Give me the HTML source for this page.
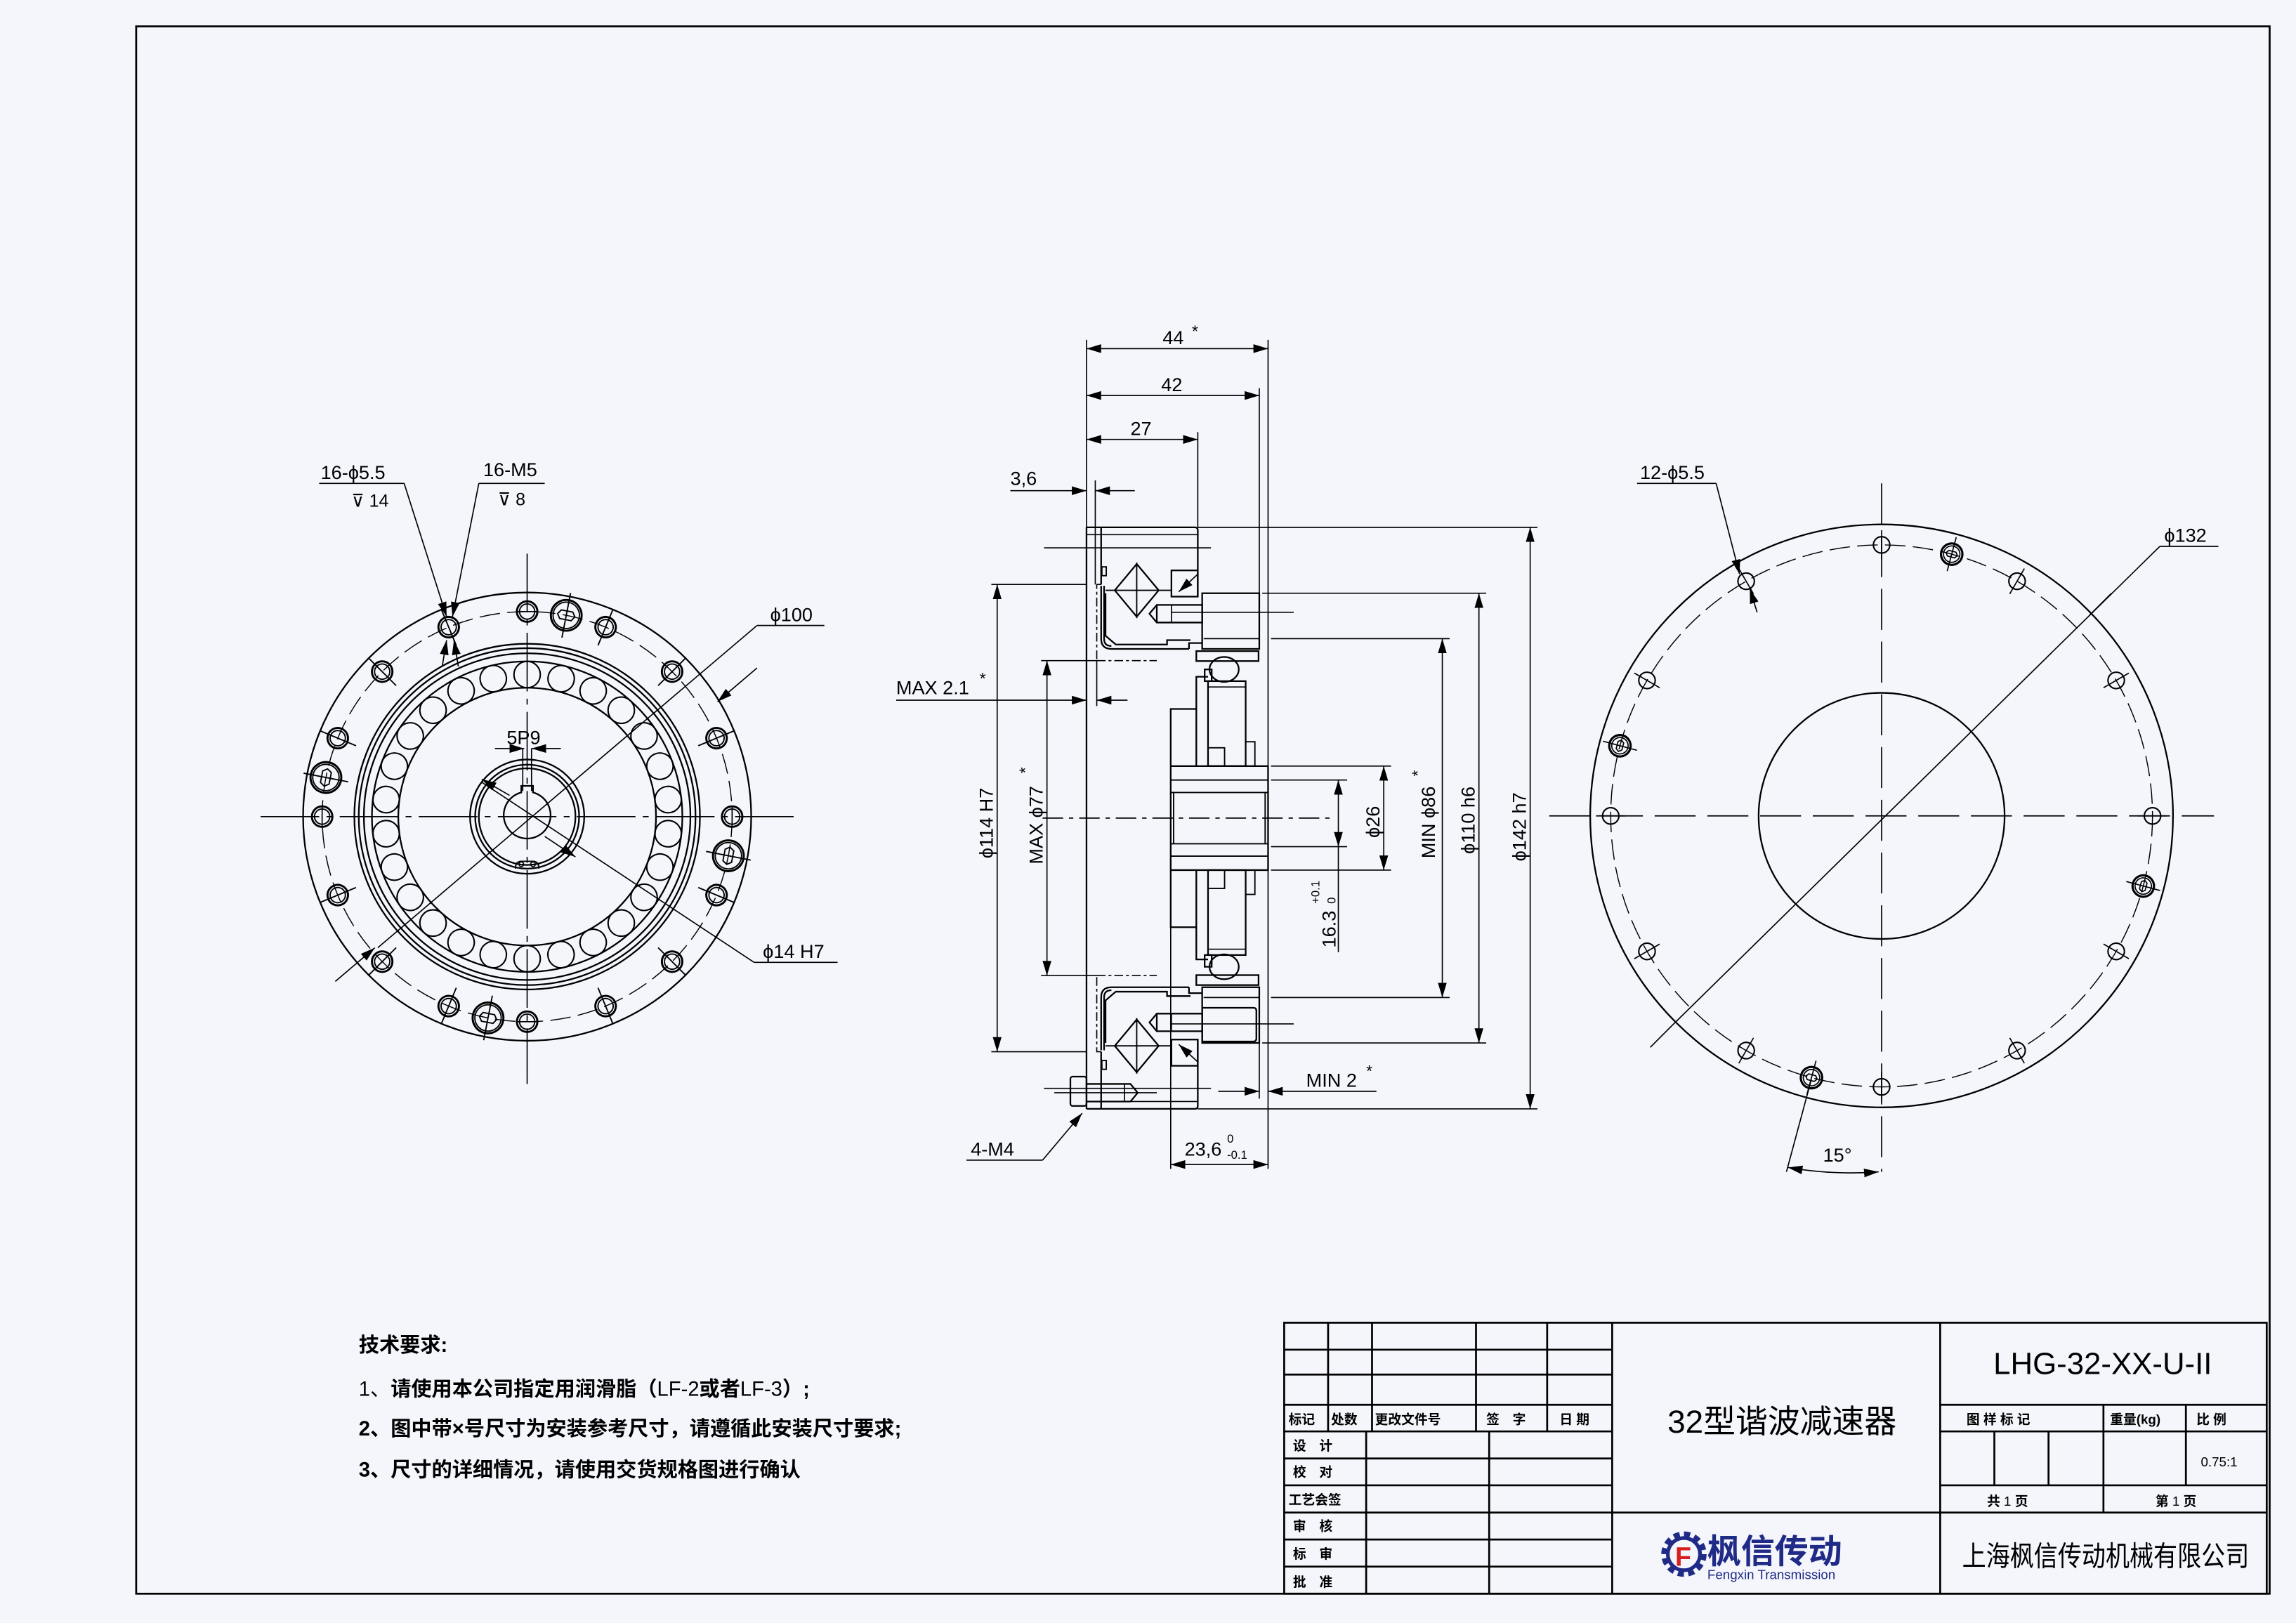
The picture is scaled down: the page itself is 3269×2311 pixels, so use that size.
<!DOCTYPE html>
<html><head><meta charset="utf-8"><style>
html,body{margin:0;padding:0;background:#f4f6fc}
svg{display:block}
text{font-family:"Liberation Sans","Noto Sans CJK SC",sans-serif;fill:#000}
</style></head><body>
<svg width="3269" height="2311" viewBox="0 0 1568 1108" preserveAspectRatio="none" xmlns="http://www.w3.org/2000/svg">
<defs>
<marker id="a" viewBox="0 0 10 6" refX="10" refY="3" markerWidth="10" markerHeight="6" markerUnits="userSpaceOnUse" orient="auto-start-reverse"><path d="M0,0L10,3L0,6z" fill="#000"/></marker>
<g id="hL">
<circle cx="360" cy="417.5" r="7" fill="none" stroke="#000" stroke-width="1.4"/>
<circle cx="360" cy="417.5" r="5.2" fill="none" stroke="#000" stroke-width="0.9"/>
<line x1="360" y1="404" x2="360" y2="431" stroke="#000" stroke-width="0.9"/>
</g>
<g id="hL0">
<circle cx="360" cy="417.5" r="7" fill="none" stroke="#000" stroke-width="1.4"/>
<circle cx="360" cy="417.5" r="5.2" fill="none" stroke="#000" stroke-width="0.9"/>
<line x1="353" y1="417.5" x2="367" y2="417.5" stroke="#000" stroke-width="0.8"/>
</g>
<g id="xL">
<circle cx="360" cy="417.5" r="10.5" fill="none" stroke="#000" stroke-width="1.4"/>
<circle cx="360" cy="417.5" r="9" fill="none" stroke="#000" stroke-width="0.9"/>
<path d="M356,414.5h8l2,3l-2,3h-8l-2,-3z" fill="none" stroke="#000" stroke-width="0.9"/>
<line x1="360" y1="402" x2="360" y2="433" stroke="#000" stroke-width="0.9"/>
</g>
<g id="roll">
<circle cx="360" cy="460.5" r="9" fill="none" stroke="#000" stroke-width="1"/>
</g>
<g id="hR">
<circle cx="1285" cy="372" r="5.6" fill="none" stroke="#000" stroke-width="1"/>
<line x1="1285" y1="362" x2="1285" y2="382" stroke="#000" stroke-width="0.8"/>
</g>
<g id="xR">
<circle cx="1285" cy="372" r="7.3" fill="none" stroke="#000" stroke-width="1.5"/>
<circle cx="1285" cy="372" r="5.6" fill="none" stroke="#000" stroke-width="0.8"/>
<path d="M1282.5,370h5l1.5,2l-1.5,2h-5l-1.5,-2z" fill="none" stroke="#000" stroke-width="0.8"/>
<line x1="1285" y1="360" x2="1285" y2="384" stroke="#000" stroke-width="0.8"/>
</g>
</defs>

<rect x="93" y="18" width="1457" height="1070" fill="none" stroke="#000" stroke-width="1.3"/>

<!-- ============ LEFT VIEW ============ -->
<g fill="none" stroke="#000" stroke-width="1.1">
<circle cx="360" cy="557.5" r="153"/>
<circle cx="360" cy="557.5" r="140" stroke-width="0.7" stroke-dasharray="14 5"/>
<circle cx="360" cy="557.5" r="118"/>
<circle cx="360" cy="557.5" r="115"/>
<circle cx="360" cy="557.5" r="111.5"/>
<circle cx="360" cy="557.5" r="106"/>
<circle cx="360" cy="557.5" r="88"/>
<circle cx="360" cy="557.5" r="39"/>
<circle cx="360" cy="557.5" r="35.5"/>
<circle cx="360" cy="557.5" r="33"/>
<path d="M356,541 V536.5 H364 V541 A16,16 0 1 1 356,541z"/>
<path d="M352,593 q0,-5 4,-5 h8 q4,0 4,5" stroke-width="0.9"/>
<circle cx="356" cy="590" r="1.6" stroke-width="0.8"/><circle cx="364" cy="590" r="1.6" stroke-width="0.8"/>
</g>
<g>
<use href="#roll"/><use href="#roll" transform="rotate(13.85 360 557.5)"/><use href="#roll" transform="rotate(27.7 360 557.5)"/><use href="#roll" transform="rotate(41.5 360 557.5)"/><use href="#roll" transform="rotate(55.4 360 557.5)"/><use href="#roll" transform="rotate(69.2 360 557.5)"/><use href="#roll" transform="rotate(83.1 360 557.5)"/><use href="#roll" transform="rotate(96.9 360 557.5)"/><use href="#roll" transform="rotate(110.8 360 557.5)"/><use href="#roll" transform="rotate(124.6 360 557.5)"/><use href="#roll" transform="rotate(138.5 360 557.5)"/><use href="#roll" transform="rotate(152.3 360 557.5)"/><use href="#roll" transform="rotate(166.2 360 557.5)"/><use href="#roll" transform="rotate(180 360 557.5)"/><use href="#roll" transform="rotate(193.8 360 557.5)"/><use href="#roll" transform="rotate(207.7 360 557.5)"/><use href="#roll" transform="rotate(221.5 360 557.5)"/><use href="#roll" transform="rotate(235.4 360 557.5)"/><use href="#roll" transform="rotate(249.2 360 557.5)"/><use href="#roll" transform="rotate(263.1 360 557.5)"/><use href="#roll" transform="rotate(276.9 360 557.5)"/><use href="#roll" transform="rotate(290.8 360 557.5)"/><use href="#roll" transform="rotate(304.6 360 557.5)"/><use href="#roll" transform="rotate(318.5 360 557.5)"/><use href="#roll" transform="rotate(332.3 360 557.5)"/><use href="#roll" transform="rotate(346.2 360 557.5)"/>
</g>
<g>
<use href="#hL0"/><use href="#hL" transform="rotate(22.5 360 557.5)"/><use href="#hL" transform="rotate(45 360 557.5)"/><use href="#hL" transform="rotate(67.5 360 557.5)"/>
<use href="#hL0" transform="rotate(90 360 557.5)"/><use href="#hL" transform="rotate(112.5 360 557.5)"/><use href="#hL" transform="rotate(135 360 557.5)"/><use href="#hL" transform="rotate(157.5 360 557.5)"/>
<use href="#hL0" transform="rotate(180 360 557.5)"/><use href="#hL" transform="rotate(202.5 360 557.5)"/><use href="#hL" transform="rotate(225 360 557.5)"/><use href="#hL" transform="rotate(247.5 360 557.5)"/>
<use href="#hL0" transform="rotate(270 360 557.5)"/><use href="#hL" transform="rotate(292.5 360 557.5)"/><use href="#hL" transform="rotate(315 360 557.5)"/><use href="#hL" transform="rotate(337.5 360 557.5)"/>
<use href="#xL" transform="rotate(11 360 557.5)"/><use href="#xL" transform="rotate(101 360 557.5)"/><use href="#xL" transform="rotate(191 360 557.5)"/><use href="#xL" transform="rotate(281 360 557.5)"/>
</g>
<g stroke="#000" stroke-width="0.8" fill="none">
<line x1="178" y1="557.5" x2="542" y2="557.5" stroke-dasharray="40 5 4 5"/>
<line x1="360" y1="378" x2="360" y2="740" stroke-dasharray="40 5 4 5"/>
<line x1="218" y1="330" x2="276" y2="330"/>
<line x1="276" y1="330" x2="305" y2="421" marker-end="url(#a)"/>
<line x1="327" y1="330" x2="372" y2="330"/>
<line x1="327" y1="330" x2="309" y2="421" marker-end="url(#a)"/>
<line x1="302" y1="455" x2="305" y2="437" marker-end="url(#a)"/>
<line x1="313" y1="455" x2="310" y2="437" marker-end="url(#a)"/>
<line x1="517" y1="427" x2="563" y2="427"/>
<line x1="517" y1="427" x2="258" y2="647"/>
<line x1="490" y1="479" x2="517" y2="456" marker-start="url(#a)"/>
<line x1="229" y1="670" x2="256" y2="647" marker-end="url(#a)"/>
<line x1="515" y1="657" x2="572" y2="657"/>
<line x1="515" y1="657" x2="329" y2="534"/>
<line x1="348" y1="543" x2="329" y2="532" marker-end="url(#a)"/>
<line x1="372" y1="571" x2="393" y2="585" marker-end="url(#a)"/>
<line x1="338" y1="511" x2="358" y2="511" marker-end="url(#a)"/>
<line x1="383" y1="511" x2="363" y2="511" marker-end="url(#a)"/>
<line x1="357" y1="511" x2="357" y2="540"/><line x1="363" y1="511" x2="363" y2="540"/>
</g>
<g font-size="13">
<text x="219" y="327">16-ϕ5.5</text>
<text x="240" y="346" font-size="12">⊽ 14</text>
<text x="330" y="325">16-M5</text>
<text x="340" y="345" font-size="12">⊽ 8</text>
<text x="526" y="424">ϕ100</text>
<text x="521" y="654">ϕ14 H7</text>
<text x="346" y="508">5P9</text>
</g>

<!-- ============ MIDDLE VIEW ============ -->
<g id="half" fill="none" stroke="#000" stroke-width="1.1">
<path d="M742,360 H816 q2,0 2,2 V407"/>
<line x1="752" y1="360" x2="752" y2="399"/>
<line x1="742" y1="365" x2="818" y2="365" stroke-width="0.8"/>
<line x1="713" y1="374" x2="827" y2="374" stroke-width="0.8"/>
<path d="M752,399 H749 V451" stroke-width="0.8" stroke-dasharray="6 2 2 2"/>
<line x1="749" y1="451" x2="790" y2="451" stroke-width="0.8" stroke-dasharray="6 2 2 2"/>
<path d="M752,400 V436 q0,7 7,7 H812"/>
<path d="M754,400 V436 q0,5 5,5"/>
<path d="M755,405 V434 L762,440 H797 V437 H813"/>
<rect x="752.5" y="387" width="3" height="6" stroke-width="0.9"/>
<path d="M761.3,403 L776.3,385 L791.3,403 L776.3,421z"/>
<line x1="776.3" y1="384" x2="776.3" y2="422" stroke-width="0.9"/>
<line x1="755" y1="403" x2="800" y2="403" stroke-width="0.9"/>
<rect x="800" y="389.4" width="18" height="17.9"/>
<line x1="818" y1="392" x2="805" y2="404" stroke-width="0.8" marker-end="url(#a)"/>
<path d="M790,413 H821 V425 H790 L785,419z"/>
<line x1="790" y1="413" x2="790" y2="425"/>
<line x1="800" y1="413" x2="800" y2="425" stroke-width="0.8"/>
<rect x="821" y="405" width="39" height="38"/>
<line x1="800" y1="418" x2="883.5" y2="418" stroke-width="0.8"/>
<line x1="822" y1="436" x2="860" y2="436" stroke-width="0.8"/>
<path d="M812,443 V439 H821"/>
<rect x="817" y="444.5" width="42.5" height="6.8"/>
<ellipse cx="836" cy="457" rx="10" ry="8.5"/>
<rect x="822.7" y="457" width="4.8" height="8"/>
<rect x="825" y="465" width="25.7" height="58"/>
<line x1="825" y1="469" x2="850.7" y2="469" stroke-width="0.8"/>
<path d="M825,462 H817 V523"/>
<path d="M817,484 H799.5 V523"/>
<rect x="825" y="510.5" width="11.3" height="12.5" stroke-width="0.9"/>
<rect x="850.7" y="506.4" width="6.3" height="16.6" stroke-width="0.9"/>
<path d="M799.5,523 H866 V558.5"/>
<line x1="799.5" y1="532.5" x2="866" y2="532.5" stroke-width="0.9"/>
<line x1="799.5" y1="541" x2="866" y2="541" stroke-width="0.9"/>
<line x1="801.5" y1="541" x2="801.5" y2="558.5" stroke-width="0.9"/>
<line x1="864" y1="541" x2="864" y2="558.5" stroke-width="0.9"/>
<line x1="799.5" y1="523" x2="799.5" y2="558.5"/>
</g>
<use href="#half" transform="matrix(1 0 0 -1 0 1117)"/>
<g fill="none" stroke="#000" stroke-width="1.1">
<line x1="742" y1="360" x2="742" y2="757"/>
<rect x="731" y="735" width="11" height="20" rx="1.5"/>
<path d="M742,740 H772 L777,746 L772,752 H742" />
<line x1="768" y1="740" x2="768" y2="752" stroke-width="0.8"/>
<path d="M821,688 H856 q2,0 2,2 V709 q0,2 -2,2 H821z"/>
</g>
<g stroke="#000" stroke-width="0.8" fill="none">
<line x1="720" y1="746" x2="790" y2="746"/>
<line x1="712" y1="558.5" x2="910" y2="558.5" stroke-dasharray="14 4 3 4"/>
<line x1="742" y1="232" x2="742" y2="360"/>
<line x1="866" y1="232" x2="866" y2="523"/>
<line x1="860" y1="265" x2="860" y2="405"/>
<line x1="818" y1="295" x2="818" y2="360"/>
<line x1="748" y1="328" x2="748" y2="399"/>
<line x1="742" y1="238" x2="866" y2="238" marker-start="url(#a)" marker-end="url(#a)"/>
<line x1="742" y1="270" x2="860" y2="270" marker-start="url(#a)" marker-end="url(#a)"/>
<line x1="742" y1="300" x2="818" y2="300" marker-start="url(#a)" marker-end="url(#a)"/>
<line x1="690" y1="335" x2="742" y2="335" marker-end="url(#a)"/>
<line x1="775" y1="335" x2="748" y2="335" marker-end="url(#a)"/>
<line x1="818" y1="360" x2="1050" y2="360"/><line x1="818" y1="757" x2="1050" y2="757"/>
<line x1="1045" y1="360" x2="1045" y2="757" marker-start="url(#a)" marker-end="url(#a)"/>
<line x1="862" y1="405" x2="1015" y2="405"/><line x1="862" y1="712" x2="1015" y2="712"/>
<line x1="1010" y1="405" x2="1010" y2="712" marker-start="url(#a)" marker-end="url(#a)"/>
<line x1="868" y1="436" x2="990" y2="436"/><line x1="868" y1="681" x2="990" y2="681"/>
<line x1="985" y1="436" x2="985" y2="681" marker-start="url(#a)" marker-end="url(#a)"/>
<line x1="868" y1="523" x2="950" y2="523"/><line x1="868" y1="594" x2="950" y2="594"/>
<line x1="945" y1="523" x2="945" y2="594" marker-start="url(#a)" marker-end="url(#a)"/>
<line x1="868" y1="532.5" x2="920" y2="532.5"/><line x1="868" y1="578" x2="920" y2="578"/>
<line x1="914" y1="532.5" x2="914" y2="578" marker-start="url(#a)" marker-end="url(#a)"/>
<line x1="914" y1="578" x2="914" y2="650"/>
<line x1="677" y1="399" x2="742" y2="399"/><line x1="677" y1="718" x2="742" y2="718"/>
<line x1="681" y1="399" x2="681" y2="718" marker-start="url(#a)" marker-end="url(#a)"/>
<line x1="711" y1="451" x2="749" y2="451"/><line x1="711" y1="666" x2="749" y2="666"/>
<line x1="715" y1="451" x2="715" y2="666" marker-start="url(#a)" marker-end="url(#a)"/>
<line x1="612" y1="478" x2="742" y2="478" marker-end="url(#a)"/>
<line x1="770" y1="478" x2="749" y2="478" marker-end="url(#a)"/>
<line x1="749" y1="451" x2="749" y2="482"/>
<line x1="799.5" y1="633" x2="799.5" y2="798"/>
<line x1="866" y1="594" x2="866" y2="798"/>
<line x1="860" y1="712" x2="860" y2="750"/>
<line x1="832" y1="745" x2="860" y2="745" marker-end="url(#a)"/>
<line x1="940" y1="745" x2="866" y2="745" marker-end="url(#a)"/>
<line x1="799.5" y1="795" x2="866" y2="795" marker-start="url(#a)" marker-end="url(#a)"/>
<line x1="660" y1="792" x2="712" y2="792"/>
<line x1="712" y1="792" x2="739" y2="760" marker-end="url(#a)"/>
</g>
<g font-size="13">
<text x="794" y="235">44</text><text x="814" y="230" font-size="11">*</text>
<text x="793" y="267">42</text>
<text x="772" y="297">27</text>
<text x="690" y="331">3,6</text>
<text x="612" y="474">MAX 2.1</text><text x="669" y="467" font-size="11">*</text>
<text x="892" y="742">MIN 2</text><text x="933" y="735" font-size="11">*</text>
<text x="809" y="789">23,6</text><text x="838" y="780" font-size="8">0</text><text x="838" y="791" font-size="8">-0.1</text>
<text x="663" y="789">4-M4</text>
<text transform="translate(678,586) rotate(-90)">ϕ114 H7</text>
<text transform="translate(712,590) rotate(-90)">MAX ϕ77</text><text transform="translate(704,528) rotate(-90)" font-size="11">*</text>
<text transform="translate(980,586) rotate(-90)">MIN ϕ86</text><text transform="translate(972,530) rotate(-90)" font-size="11">*</text>
<text transform="translate(1007,583) rotate(-90)">ϕ110 h6</text>
<text transform="translate(1042,588) rotate(-90)">ϕ142 h7</text>
<text transform="translate(942,572) rotate(-90)">ϕ26</text>
<text transform="translate(912,647) rotate(-90)">16.3</text>
<text transform="translate(901,617) rotate(-90)" font-size="8">+0.1</text>
<text transform="translate(912,617) rotate(-90)" font-size="8">0</text>
</g>

<!-- ============ RIGHT VIEW ============ -->
<g fill="none" stroke="#000" stroke-width="1.1">
<circle cx="1285" cy="557" r="199"/>
<circle cx="1285" cy="557" r="185" stroke-width="0.7" stroke-dasharray="14 5"/>
<circle cx="1285" cy="557" r="84"/>
</g>
<g>
<use href="#hR"/><use href="#hR" transform="rotate(30 1285 557)"/><use href="#hR" transform="rotate(60 1285 557)"/><use href="#hR" transform="rotate(90 1285 557)"/><use href="#hR" transform="rotate(120 1285 557)"/><use href="#hR" transform="rotate(150 1285 557)"/><use href="#hR" transform="rotate(180 1285 557)"/><use href="#hR" transform="rotate(210 1285 557)"/><use href="#hR" transform="rotate(240 1285 557)"/><use href="#hR" transform="rotate(270 1285 557)"/><use href="#hR" transform="rotate(300 1285 557)"/><use href="#hR" transform="rotate(330 1285 557)"/>
<use href="#xR" transform="rotate(15 1285 557)"/><use href="#xR" transform="rotate(105 1285 557)"/><use href="#xR" transform="rotate(195 1285 557)"/><use href="#xR" transform="rotate(285 1285 557)"/>
</g>
<g stroke="#000" stroke-width="0.8" fill="none">
<line x1="1058" y1="557" x2="1512" y2="557" stroke-dasharray="28 8"/>
<line x1="1285" y1="330" x2="1285" y2="800" stroke-dasharray="28 8"/>
<line x1="1118" y1="330" x2="1172" y2="330"/>
<line x1="1172" y1="330" x2="1188" y2="392" marker-end="url(#a)"/>
<line x1="1200" y1="418" x2="1195" y2="402" marker-end="url(#a)"/>
<line x1="1475" y1="373" x2="1515" y2="373"/>
<line x1="1475" y1="373" x2="1142" y2="700"/>
<line x1="1442" y1="405" x2="1427" y2="420"/>
<line x1="1127" y1="715" x2="1142" y2="700"/>
<path d="M1221,797 A250,250 0 0 0 1283,800" marker-start="url(#a)" marker-end="url(#a)"/>
<line x1="1237" y1="737" x2="1220" y2="800"/>
</g>
<g font-size="13">
<text x="1120" y="327">12-ϕ5.5</text>
<text x="1478" y="370">ϕ132</text>
<text x="1245" y="793">15°</text>
</g>

<!-- ============ NOTES ============ -->
<g font-size="14" font-weight="bold">
<text x="245" y="923">技术要求:</text>
<text x="245" y="953" font-weight="normal">1、<tspan font-weight="bold">请使用本公司指定用润滑脂（</tspan>LF-2<tspan font-weight="bold">或者</tspan>LF-3<tspan font-weight="bold">）;</tspan></text>
<text x="245" y="980">2、图中带×号尺寸为安装参考尺寸，请遵循此安装尺寸要求;</text>
<text x="245" y="1008">3、尺寸的详细情况，请使用交货规格图进行确认</text>
</g>

<!-- ============ TITLE BLOCK ============ -->
<g fill="none" stroke="#000" stroke-width="1.3">
<rect x="877" y="903" width="671" height="185"/>
<line x1="1101" y1="903" x2="1101" y2="1088"/>
<line x1="1325" y1="903" x2="1325" y2="1088"/>
<line x1="877" y1="921.4" x2="1101" y2="921.4"/>
<line x1="877" y1="938.4" x2="1101" y2="938.4"/>
<line x1="877" y1="959" x2="1101" y2="959"/>
<line x1="877" y1="977.2" x2="1101" y2="977.2"/>
<line x1="877" y1="995.7" x2="1101" y2="995.7"/>
<line x1="877" y1="1014" x2="1101" y2="1014"/>
<line x1="877" y1="1032.6" x2="1548" y2="1032.6"/>
<line x1="877" y1="1051" x2="1101" y2="1051"/>
<line x1="877" y1="1069.5" x2="1101" y2="1069.5"/>
<line x1="907" y1="903" x2="907" y2="977.2"/>
<line x1="937" y1="903" x2="937" y2="977.2"/>
<line x1="1008" y1="903" x2="1008" y2="977.2"/>
<line x1="1056.6" y1="903" x2="1056.6" y2="977.2"/>
<line x1="933" y1="977.2" x2="933" y2="1088"/>
<line x1="1017" y1="977.2" x2="1017" y2="1088"/>
<line x1="1325" y1="959" x2="1548" y2="959"/>
<line x1="1325" y1="977.2" x2="1548" y2="977.2"/>
<line x1="1325" y1="1014" x2="1548" y2="1014"/>
<line x1="1362" y1="977.2" x2="1362" y2="1014"/>
<line x1="1399" y1="977.2" x2="1399" y2="1014"/>
<line x1="1436.5" y1="959" x2="1436.5" y2="1032.6"/>
<line x1="1492.8" y1="959" x2="1492.8" y2="1014"/>
</g>
<g font-size="9" font-weight="bold">
<text x="880" y="972">标记</text><text x="909" y="972">处数</text><text x="939" y="972">更改文件号</text>
<text x="1015" y="972">签　字</text><text x="1065" y="972">日 期</text>
<text x="883" y="990">设　计</text><text x="883" y="1008">校　对</text><text x="880" y="1027">工艺会签</text>
<text x="883" y="1045">审　核</text><text x="883" y="1064">标　审</text><text x="883" y="1083">批　准</text>
<text x="1343" y="972">图 样 标 记</text><text x="1441" y="972">重量(kg)</text><text x="1500" y="972">比 例</text>
<text x="1357" y="1028">共 <tspan font-weight="normal">1</tspan> 页</text><text x="1472" y="1028">第 <tspan font-weight="normal">1</tspan> 页</text>
<text x="1503" y="1001" font-weight="normal">0.75:1</text>
</g>
<text x="1436" y="938" font-size="21" text-anchor="middle">LHG-32-XX-U-II</text>
<text x="1217" y="978" font-size="22" text-anchor="middle">32型谐波减速器</text>
<text x="1340" y="1069" font-size="19" textLength="196" lengthAdjust="spacingAndGlyphs" font-family="'Noto Serif CJK SC',serif">上海枫信传动机械有限公司</text>
<g>
<circle cx="1150" cy="1061" r="13" fill="none" stroke="#1f2b86" stroke-width="5" stroke-dasharray="4 2.8"/>
<circle cx="1150" cy="1061" r="11" fill="none" stroke="#1f2b86" stroke-width="2.5"/>
<text x="1144" y="1069" font-size="18" font-weight="bold" style="fill:#d62020">F</text>
</g>
<text x="1166" y="1067" font-size="23" font-weight="bold" style="fill:#1f2b86">枫信传动</text>
<text x="1166" y="1078" font-size="9" style="fill:#1f2b86">Fengxin Transmission</text>
</svg>
</body></html>
